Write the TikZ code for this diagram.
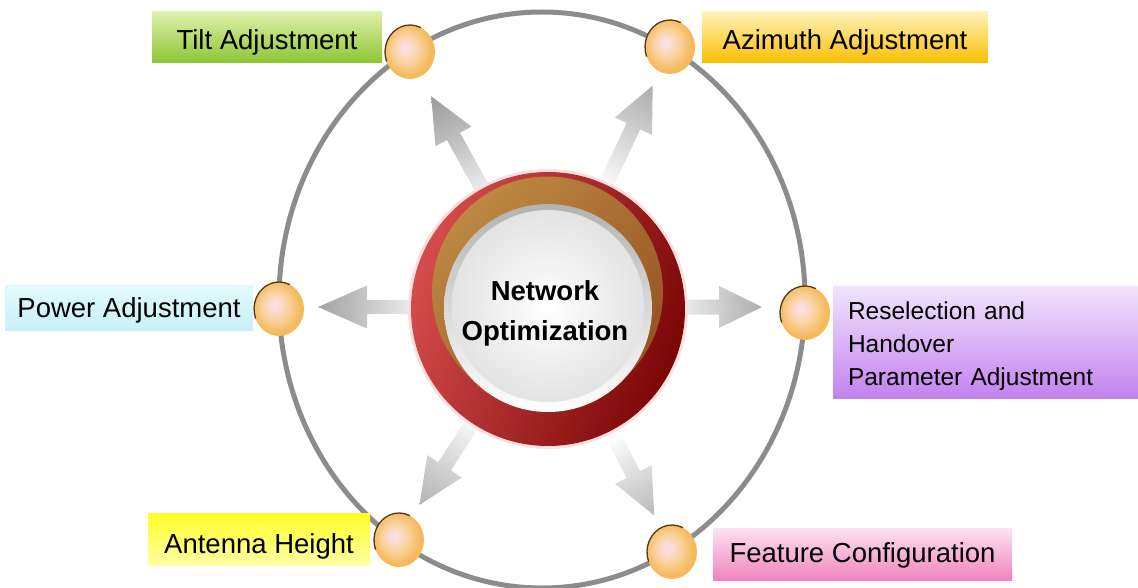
\documentclass[tikz,border=0pt]{standalone}
\usepackage{fontspec}
\setmainfont{Liberation Sans}
\usetikzlibrary{shapes.geometric}

% palette
\definecolor{orbhi}{RGB}{251,222,226}
\definecolor{orbmid}{RGB}{250,210,158}
\definecolor{orbedge}{RGB}{244,186,92}
\definecolor{orbrimc}{RGB}{85,55,20}
\definecolor{raylo}{RGB}{232,232,232}
\definecolor{raymid}{RGB}{190,190,190}
\definecolor{rayhi}{RGB}{156,156,156}
\definecolor{loopc}{RGB}{140,140,140}
\definecolor{redtop}{RGB}{214,76,76}
\definecolor{redbot}{RGB}{122,6,6}
\definecolor{browntop}{RGB}{188,136,66}
\definecolor{brownbot}{RGB}{150,82,34}

% radial shadings: the shaded path's bounding box covers the central 50bp,
% so its outline sits at a radius of 25bp
\pgfdeclareradialshading{orbsh}{\pgfpoint{-5bp}{4bp}}{color(0bp)=(orbhi); color(3bp)=(orbhi); color(13bp)=(orbmid); color(24bp)=(orbedge); color(50bp)=(orbedge)}
\pgfdeclareradialshading{raysh}{\pgfpoint{0bp}{0bp}}{color(0bp)=(white); color(11bp)=(white); color(13.5bp)=(raylo); color(18.5bp)=(raymid); color(23bp)=(rayhi); color(50bp)=(rayhi)}

% one shaded arrow leaving the hub: angle, tip distance, head length, head half-width, shaft half-width
\newcommand\rayarrow[5]{%
  \begin{scope}[shift={(hub)}, rotate=#1]
    \clip (105,-#5) -- ({#2-#3},-#5) -- ({#2-#3},-#4) -- (#2,0) -- ({#2-#3},#4) -- ({#2-#3},#5) -- (105,#5) -- cycle;
    \shade[shading=raysh] (0,0) circle [radius=260];
  \end{scope}}

% dark crescent on the upper left of a ball
\newcommand\orbrim[1]{%
  \draw[rimline] ([shift={(-65:25 and 27)}]#1.center) arc[start angle=-65, end angle=-200, x radius=25, y radius=27];}

\begin{document}
\begin{tikzpicture}[x=1pt, y=-1pt,
  loopline/.style={draw=loopc, line width=5pt},
  orb/.style={ellipse, minimum width=50pt, minimum height=54pt, inner sep=0pt, outer sep=0pt, shade, shading=orbsh},
  rimline/.style={draw=orbrimc, line width=1.3pt, line cap=round},
  labelbox/.style={rectangle, inner sep=0pt, outer sep=0pt, text=black,
    font=\fontsize{27.5pt}{33pt}\selectfont},
  raise/.style={text height=#1, text depth=0pt},
  hubtext/.style={align=center, font=\fontsize{27.5pt}{40pt}\selectfont\bfseries}]

\useasboundingbox (0,0) rectangle (1138,588);
\coordinate (hub) at (548,307);

% outer loop through the six stations
\draw[loopline] (542,300) ellipse [x radius=263, y radius=288];

% arrows radiating from the hub
\rayarrow{180}{230}{49}{21.5}{7}
\rayarrow{0}{214}{43}{21}{7.5}
\rayarrow{119}{241}{46}{20.5}{7.5}
\rayarrow{64.7}{245}{45}{20.5}{7.5}
\rayarrow{237}{236}{46}{20.5}{7.5}
\rayarrow{297}{234}{46}{20.5}{7.5}

% central button
\fill[red!12] (548,309) circle [radius=140];
\shade[top color=redtop, bottom color=redbot, shading angle=70] (548,309) circle [radius=137];
\shade[top color=browntop, bottom color=brownbot, shading angle=45] (547.5,292) circle [radius=115.5];
\shade[top color=gray!60, bottom color=white] (548,308) circle [radius=104];
\shade[inner color=white, outer color=gray!22] (548,306) circle [radius=96];
\node[hubtext] (core) at (545,313) {Network\\Optimization};

% stations on the loop
\node[orb] (tiltorb) at (410,52) {};
\node[orb] (aziorb) at (670,47) {};
\node[orb] (poworb) at (279,309) {};
\node[orb] (resorb) at (805,313) {};
\node[orb] (antorb) at (399,540) {};
\node[orb] (feaorb) at (672,552) {};
\foreach \o in {tiltorb,aziorb,poworb,resorb,antorb,feaorb}{\orbrim{\o}}

% labels
\node[labelbox, raise=25pt, minimum width=230pt, minimum height=51pt,
  top color={rgb,255:red,222;green,240;blue,170}, bottom color={rgb,255:red,140;green,198;blue,50}]
  (tilt) at (267,37.5) {Tilt Adjustment};
\node[labelbox, raise=25pt, minimum width=286pt, minimum height=51pt,
  top color={rgb,255:red,255;green,242;blue,185}, bottom color={rgb,255:red,250;green,190;blue,0}]
  (azi) at (845,37.5) {Azimuth Adjustment};
\node[labelbox, raise=19pt, minimum width=248pt, minimum height=45pt,
  top color={rgb,255:red,226;green,250;blue,253}, bottom color={rgb,255:red,200;green,240;blue,248}]
  (pow) at (129,307.5) {Power Adjustment};
\node[labelbox, minimum width=305pt, minimum height=112pt, text width=275pt, align=left,
  text height=26pt, font=\fontsize{24.5pt}{33pt}\selectfont,
  top color={rgb,255:red,242;green,228;blue,251}, bottom color={rgb,255:red,195;green,130;blue,240}]
  (res) at (985.5,342) {Reselection and\\Handover\\Parameter Adjustment};
\node[labelbox, raise=27pt, minimum width=222pt, minimum height=52pt,
  top color={rgb,255:red,255;green,255;blue,40}, bottom color={rgb,255:red,255;green,255;blue,165}]
  (ant) at (259,539.5) {Antenna Height};
\node[labelbox, raise=15pt, minimum width=299pt, minimum height=52pt,
  top color={rgb,255:red,253;green,226;blue,240}, bottom color={rgb,255:red,240;green,130;blue,190}]
  (fea) at (862.5,554.5) {Feature Configuration};

\end{tikzpicture}
\end{document}
